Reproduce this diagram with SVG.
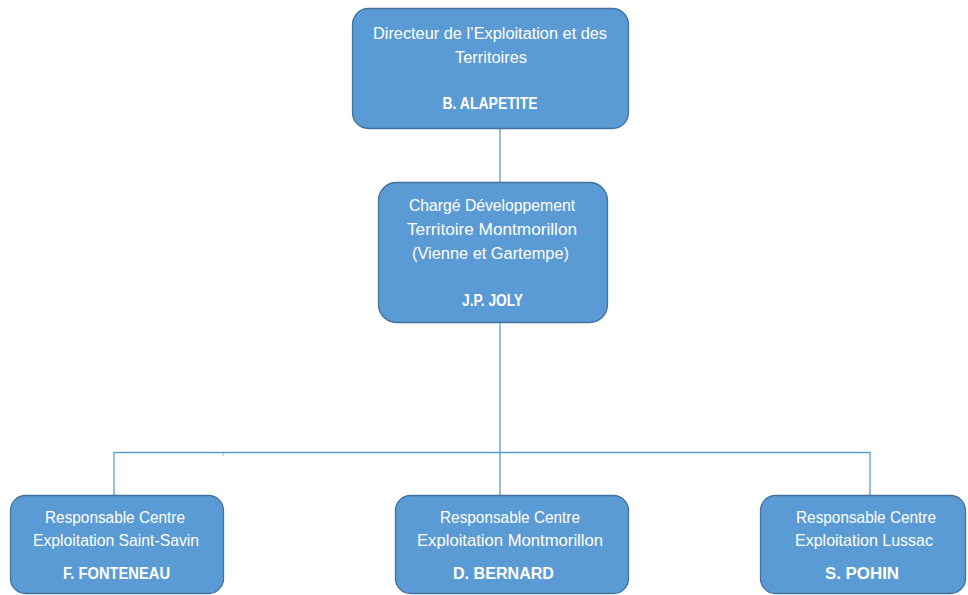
<svg xmlns="http://www.w3.org/2000/svg" width="968" height="595" viewBox="0 0 968 595">
<style>
.box{fill:#5B9BD5;stroke:#41719C;stroke-width:1.3}
.t{font-family:"Liberation Sans","DejaVu Sans",sans-serif;font-size:16px;fill:#ffffff;text-anchor:middle}
.b{font-weight:bold}
.c{fill:none;stroke:#5B9BD5;stroke-width:1.3}
</style>
<rect width="968" height="595" fill="#ffffff"/>
<g id="connectors">
<line class="c" x1="500" y1="128" x2="500" y2="182"/>
<line class="c" x1="500" y1="323" x2="500" y2="495"/>
<polyline class="c" points="114,495 114,452.5 870,452.5 870,495"/>
<line class="c" x1="223" y1="452.5" x2="223" y2="456" stroke-opacity="0.5"/>
</g>
<g id="n1">
<rect class="box" x="352.5" y="8.5" width="276" height="120" rx="16"/>
<text class="t" x="490" y="39" textLength="234" lengthAdjust="spacingAndGlyphs">Directeur de l’Exploitation et des</text>
<text class="t" x="491" y="63" textLength="72" lengthAdjust="spacingAndGlyphs">Territoires</text>
<text class="t b" x="490" y="109" textLength="95" lengthAdjust="spacingAndGlyphs">B. ALAPETITE</text>
</g>
<g id="n2">
<rect class="box" x="378.5" y="182.5" width="229" height="140" rx="18"/>
<text class="t" x="492" y="211" textLength="166" lengthAdjust="spacingAndGlyphs">Chargé Développement</text>
<text class="t" x="492" y="235" textLength="170" lengthAdjust="spacingAndGlyphs">Territoire Montmorillon</text>
<text class="t" x="490.5" y="259" textLength="157" lengthAdjust="spacingAndGlyphs">(Vienne et Gartempe)</text>
<text class="t b" x="492.5" y="306" textLength="61" lengthAdjust="spacingAndGlyphs">J.P. JOLY</text>
</g>
<g id="n3">
<rect class="box" x="10.5" y="495.5" width="213" height="98" rx="15"/>
<text class="t" x="115" y="523" textLength="140" lengthAdjust="spacingAndGlyphs">Responsable Centre</text>
<text class="t" x="116" y="546" textLength="166" lengthAdjust="spacingAndGlyphs">Exploitation Saint-Savin</text>
<text class="t b" x="116.5" y="579" textLength="107" lengthAdjust="spacingAndGlyphs">F. FONTENEAU</text>
</g>
<g id="n4">
<rect class="box" x="395.5" y="495.5" width="233" height="98" rx="15"/>
<text class="t" x="510" y="523" textLength="140" lengthAdjust="spacingAndGlyphs">Responsable Centre</text>
<text class="t" x="510" y="546" textLength="186" lengthAdjust="spacingAndGlyphs">Exploitation Montmorillon</text>
<text class="t b" x="503.5" y="579" textLength="101" lengthAdjust="spacingAndGlyphs">D. BERNARD</text>
</g>
<g id="n5">
<rect class="box" x="760.5" y="495.5" width="205" height="98" rx="15"/>
<text class="t" x="866" y="523" textLength="140" lengthAdjust="spacingAndGlyphs">Responsable Centre</text>
<text class="t" x="864" y="546" textLength="138" lengthAdjust="spacingAndGlyphs">Exploitation Lussac</text>
<text class="t b" x="862" y="579" textLength="74" lengthAdjust="spacingAndGlyphs">S. POHIN</text>
</g>
</svg>
